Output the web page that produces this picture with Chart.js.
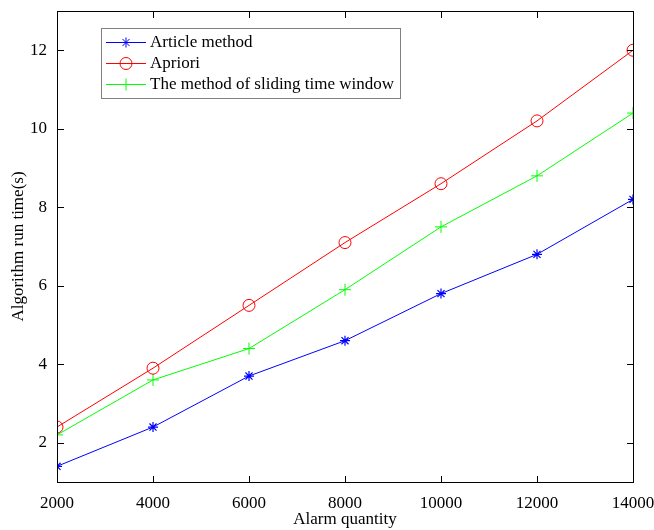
<!DOCTYPE html>
<html>
<head>
<meta charset="utf-8">
<script src="https://cdn.jsdelivr.net/npm/chart.js@4"></script>
<style>
html,body{margin:0;padding:0;background:#fff;}
#wrap{width:654px;height:530px;}
</style>
</head>
<body>
<div id="wrap"><canvas id="c" width="654" height="530"></canvas></div>
<script>
const alarmQuantity = [2000, 4000, 6000, 8000, 10000, 12000, 14000];
const articleMethod = [1.4, 2.4, 3.7, 4.6, 5.8, 6.8, 8.2];
const apriori = [2.4, 3.9, 5.5, 7.1, 8.6, 10.2, 12.0];
const slidingWindow = [2.2, 3.6, 4.4, 5.9, 7.5, 8.8, 10.4];
const xTicks = [2000, 4000, 6000, 8000, 10000, 12000, 14000];
const yTicks = [2, 4, 6, 8, 10, 12];
const seriesNames = ['Article method', 'Apriori', 'The method of sliding time window'];

const FONT = '"Liberation Serif", "Times New Roman", serif';
const pts = arr => arr.map((v, i) => ({x: alarmQuantity[i], y: v}));

const framePlugin = {
  id: 'frame',
  afterDraw(chart) {
    const ctx = chart.ctx;
    const a = chart.chartArea;
    const sx = chart.scales.x, sy = chart.scales.y;
    ctx.save();
    ctx.globalAlpha = 1;
    ctx.fillStyle = '#000';
    const L = Math.round(a.left), R = Math.round(a.right), T = Math.round(a.top), B = Math.round(a.bottom);
    ctx.fillRect(L, T, R - L + 1, 1);
    ctx.fillRect(L, B, R - L + 1, 1);
    ctx.fillRect(L, T, 1, B - T + 1);
    ctx.fillRect(R, T, 1, B - T + 1);
    const TL = 6;
    xTicks.forEach(t => {
      const x = Math.round(sx.getPixelForValue(t));
      ctx.fillRect(x, B - TL, 1, TL);
      ctx.fillRect(x, T + 1, 1, TL);
    });
    yTicks.forEach(t => {
      const y = Math.round(sy.getPixelForValue(t));
      ctx.fillRect(L + 1, y, TL, 1);
      ctx.fillRect(R - TL, y, TL, 1);
    });

    // legend
    const bx = 101.5, by = 28.5, bw = 299, bh = 70;
    ctx.fillStyle = '#fff';
    ctx.fillRect(bx, by, bw, bh);
    ctx.strokeStyle = '#808080';
    ctx.lineWidth = 1;
    ctx.strokeRect(bx, by, bw, bh);
    ctx.font = '17px ' + FONT;
    ctx.textBaseline = 'middle';
    ctx.textAlign = 'left';
    chart.data.datasets.forEach((ds, i) => {
      const y = 42 + i * 21;
      ctx.strokeStyle = ds.borderColor;
      ctx.lineWidth = 1;
      ctx.beginPath();
      ctx.moveTo(106, y + 0.5); ctx.lineTo(146, y + 0.5);
      ctx.stroke();
      ctx.fillStyle = 'rgba(0,0,0,0)';
      Chart.helpers.drawPoint(ctx, {pointStyle: ds.pointStyle, radius: ds.pointRadius, rotation: 0, borderWidth: 1}, 126, y + 0.5);
      ctx.fillStyle = '#000';
      ctx.fillText(ds.label, 150, y + 1);
    });
    ctx.restore();
  }
};

new Chart(document.getElementById('c'), {
  type: 'line',
  data: {
    datasets: [
      {label: seriesNames[0], data: pts(articleMethod), borderColor: '#0000ff', backgroundColor: 'transparent', pointStyle: 'star', pointRadius: 5, pointBorderColor: '#0000ff', pointBorderWidth: 1.2, borderWidth: 1},
      {label: seriesNames[1], data: pts(apriori), borderColor: '#ff0000', backgroundColor: 'transparent', pointStyle: 'circle', pointRadius: 6, pointBackgroundColor: 'transparent', pointBorderColor: '#ff0000', pointBorderWidth: 1, borderWidth: 1},
      {label: seriesNames[2], data: pts(slidingWindow), borderColor: '#00ff00', backgroundColor: 'transparent', pointStyle: 'cross', pointRadius: 6, pointBorderColor: '#00ff00', pointBorderWidth: 1, borderWidth: 1}
    ]
  },
  options: {
    responsive: false,
    animation: false,
    devicePixelRatio: 1,
    layout: {padding: {left: 0, right: 21, top: 11, bottom: 0}},
    plugins: {legend: {display: false}, tooltip: {enabled: false}},
    elements: {line: {tension: 0}},
    scales: {
      x: {
        type: 'linear', min: 2000, max: 14000,
        afterBuildTicks: s => { s.ticks = xTicks.map(v => ({value: v})); },
        afterFit: s => { s.height = 48; s.paddingLeft = 0; s.paddingRight = 0; },
        grid: {display: false, drawTicks: false},
        border: {display: false},
        ticks: {color: '#000', font: {family: FONT, size: 17}, padding: 11, maxRotation: 0, autoSkip: false, callback: v => String(v)},
        title: {display: true, text: 'Alarm quantity', color: '#000', font: {family: FONT, size: 17}, padding: {top: 0, bottom: 0}}
      },
      y: {
        type: 'linear', min: 1, max: 13,
        afterBuildTicks: s => { s.ticks = yTicks.map(v => ({value: v})); },
        afterFit: s => { s.width = 57; s.paddingTop = 0; s.paddingBottom = 0; },
        grid: {display: false, drawTicks: false},
        border: {display: false},
        ticks: {color: '#000', font: {family: FONT, size: 17}, padding: 10, callback: v => String(v)},
        title: {display: true, text: 'Algorithm run time(s)', color: '#000', font: {family: FONT, size: 17}, padding: {top: 8, bottom: 0}}
      }
    }
  },
  plugins: [framePlugin]
});
</script>
</body>
</html>
